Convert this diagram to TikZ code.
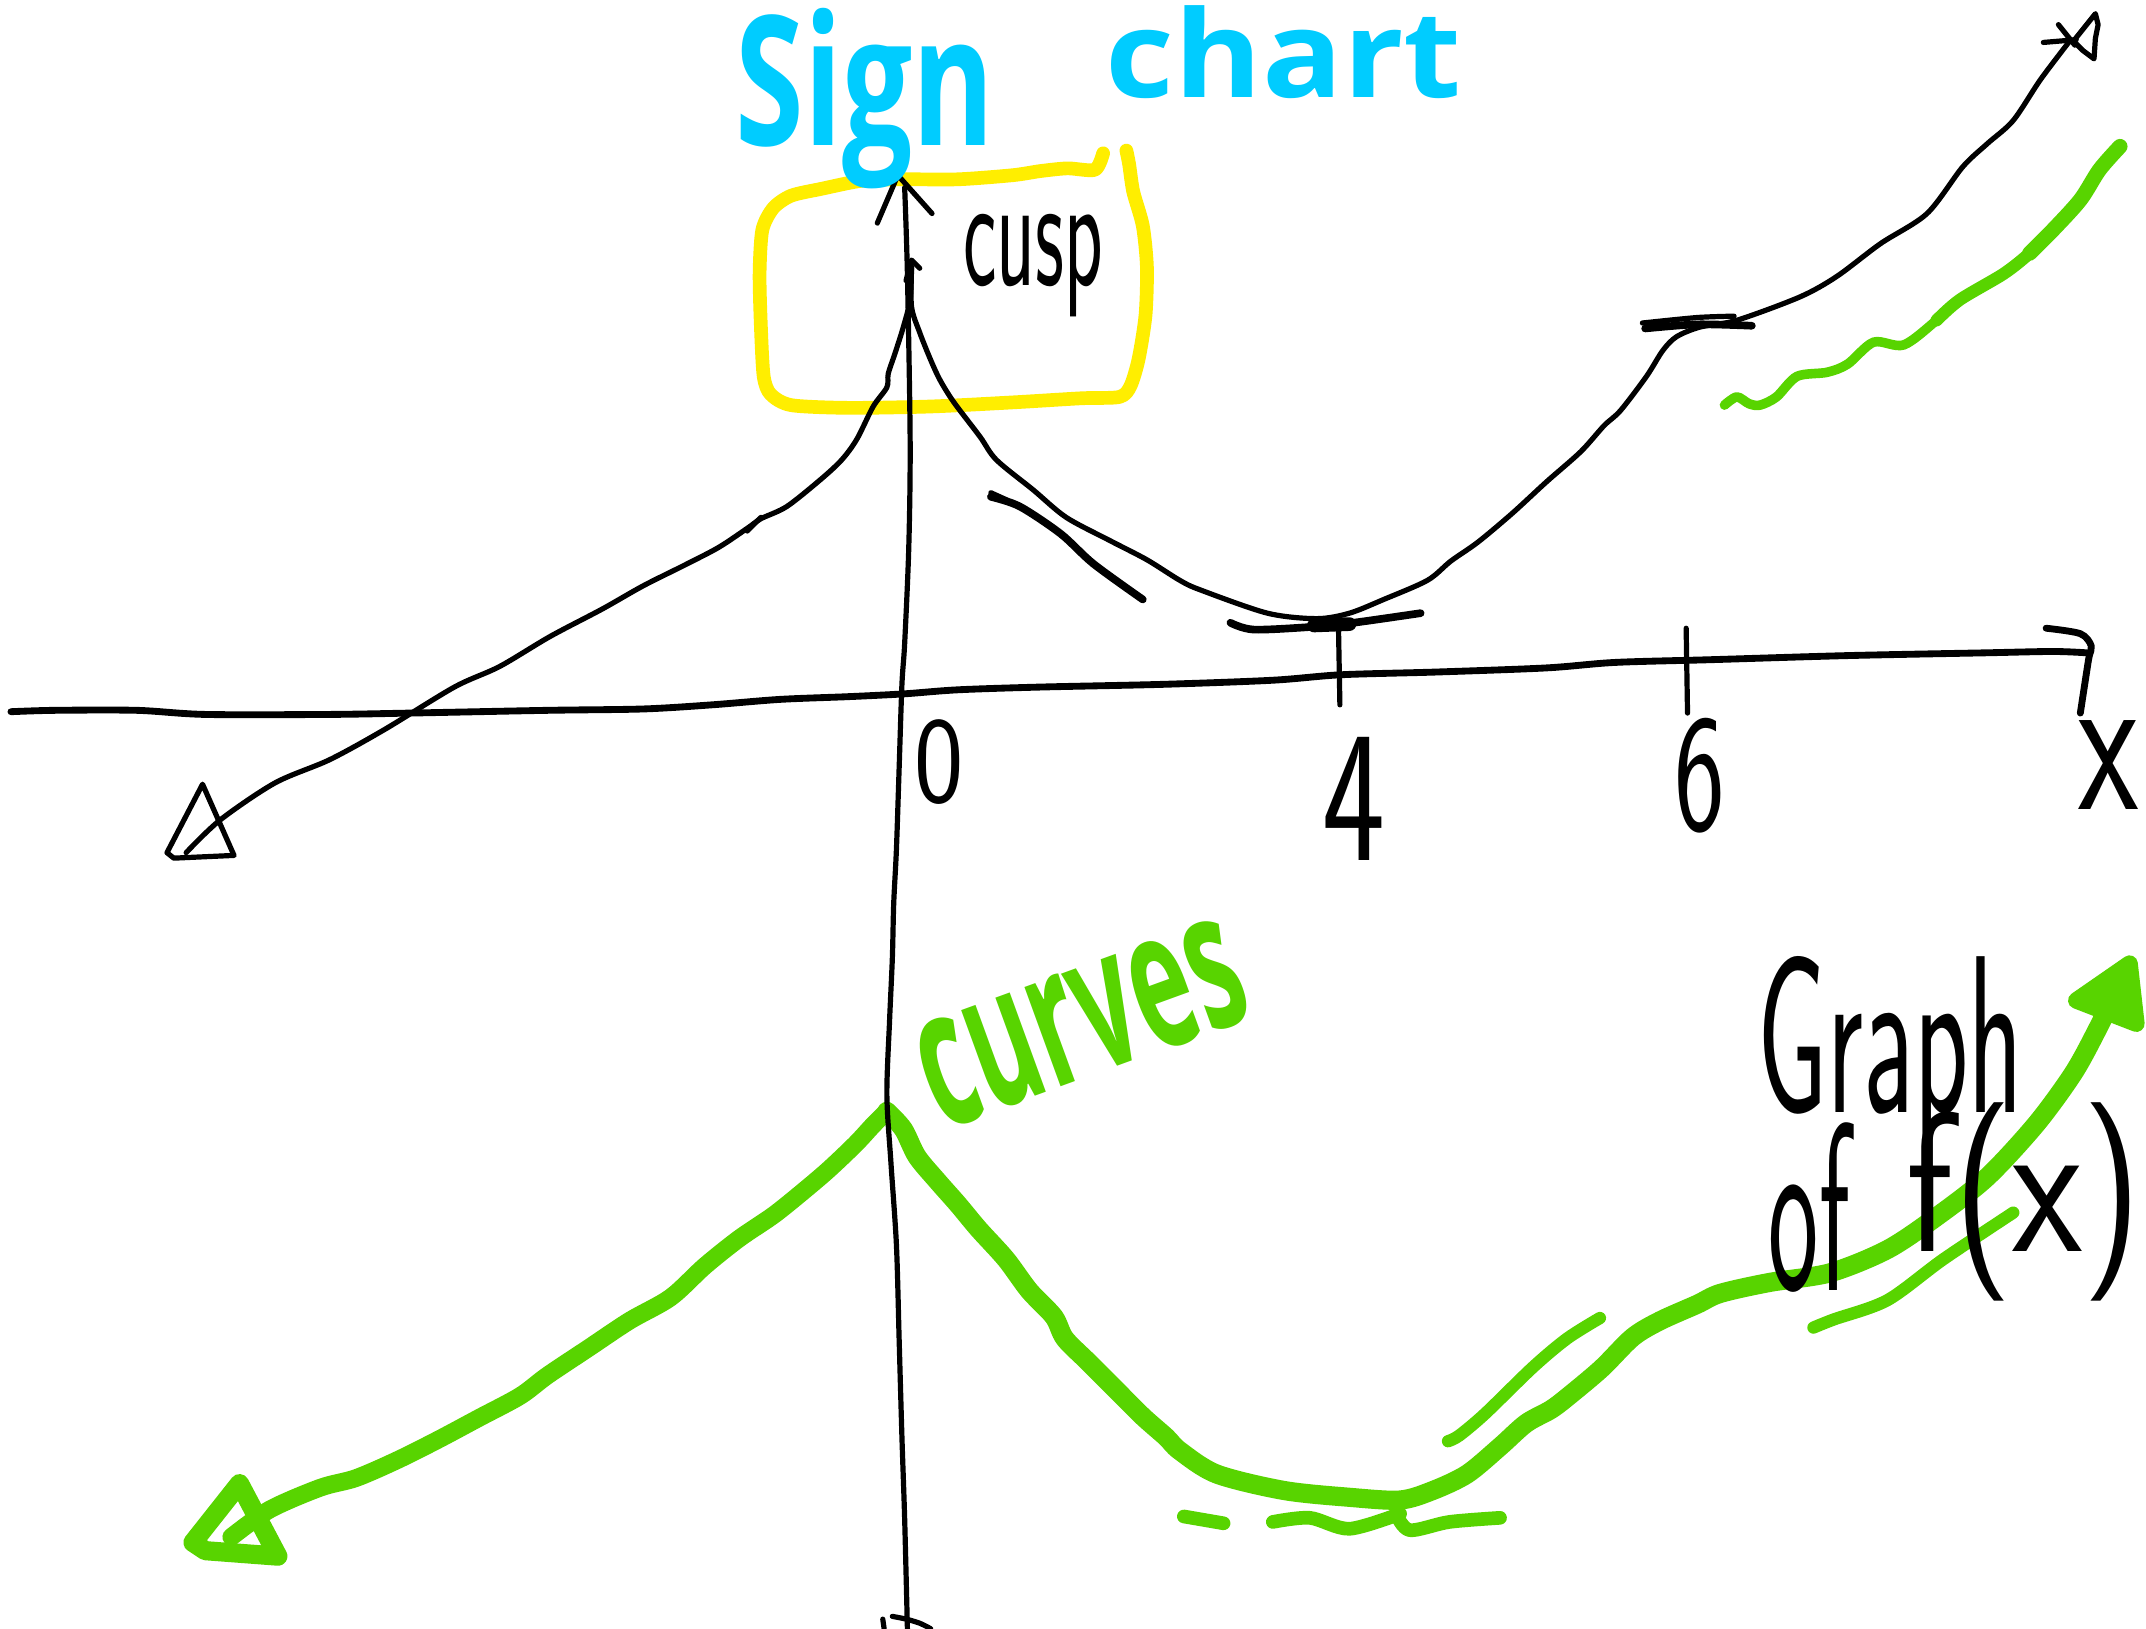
\documentclass[tikz,border=0pt]{standalone}
\usepackage{fontspec}
\usepackage{graphicx}
\newfontfamily\handfont{Open Sans}
\definecolor{skyc}{RGB}{0,204,255}
\definecolor{grn}{RGB}{88,212,0}
\definecolor{ylw}{RGB}{255,238,0}
\begin{document}
\begin{tikzpicture}[x=0.5pt,y=-0.5pt,
  ink/.style={draw=black,line width=1.9pt,line cap=round,line join=round},
  axisline/.style={ink,line width=2.5pt},
  tangent/.style={ink,line width=2.8pt},
  grnline/.style={draw=grn,line width=6.5pt,line cap=round,line join=round},
  grnthin/.style={draw=grn,line width=4.5pt,line cap=round,line join=round},
  ylwline/.style={draw=ylw,line width=5pt,line cap=round,line join=round},
  lbl/.style={inner sep=0pt,outer sep=0pt},
  blk/.style={lbl,text=black,font=\sffamily\fontsize{40}{40}\selectfont},
  hnd/.style={lbl,font=\handfont\bfseries\fontsize{40}{40}\selectfont},
]
\useasboundingbox (0,0) rectangle (1568,1190);
\fill[white] (0,0) rectangle (1568,1190);
\clip (0,0) rectangle (1568,1190);

% ---------- yellow box round the cusp ----------
\draw[ylwline] plot[smooth,tension=0.45] coordinates {(806,112) (800,124) (780,123) (760,125) (740,128) (700,131) (660,131) (630,132) (600,138) (578,143) (565,152) (557,168) (555,200) (556,240) (558,275) (563,288) (578,296) (620,298) (680,297) (740,294) (790,291) (818,290) (826,282) (832,262) (837,230) (838,195) (835,165) (828,140) (825,120) (823,110)};

% ---------- green graph of f(x) ----------
% upper right green curve (thickening)
\draw[draw=grn,line width=3.5pt,line cap=round,line join=round] plot[smooth,tension=0.5] coordinates {(1260,296) (1269,290) (1278,295) (1286,296) (1298,290) (1313,275) (1335,272) (1350,266) (1369,250) (1391,252) (1415,234) (1432,219) (1464,200) (1483,185) (1500,168) (1520,146) (1534,124) (1549,107)};
\draw[draw=grn,line width=4.5pt,line cap=round,line join=round] plot[smooth,tension=0.5] coordinates {(1415,234) (1432,219) (1464,200) (1483,185) (1500,168) (1520,146) (1534,124) (1549,107)};
\draw[draw=grn,line width=5.5pt,line cap=round,line join=round] plot[smooth,tension=0.5] coordinates {(1483,185) (1500,168) (1520,146) (1534,124) (1549,107)};

% lower main green curve, left branch
\draw[grnline] plot[smooth,tension=0.5] coordinates {(169,1123) (197,1103) (234,1087) (260,1080) (290,1067) (320,1052) (350,1036) (380,1020) (400,1005) (430,985) (460,965) (490,948) (515,925) (540,905) (565,888) (585,872) (605,855) (625,836) (638,822) (648,812)};
% left arrow head
\draw[grnline,line width=7pt] (175,1084) -- (141,1127) -- (150,1133) -- (203,1137) -- cycle;
% right branch
\draw[grnline,line width=7pt] plot[smooth,tension=0.5] coordinates {(648,812) (660,825) (670,845) (685,863) (700,880) (715,898) (735,920) (752,943) (770,962) (778,978) (795,995) (815,1015) (835,1035) (852,1050) (862,1060) (889,1077) (938,1089) (986,1094) (1023,1096) (1047,1089) (1072,1077) (1096,1057) (1115,1040) (1133,1030) (1145,1021) (1170,1000) (1193,977) (1213,965) (1240,953) (1257,945) (1293,937) (1337,930) (1379,913) (1415,889) (1452,860) (1488,821) (1515,784) (1532,753) (1544,728) (1550,712)};
\filldraw[draw=grn,fill=grn,line width=6pt,line join=round] (1517,731) -- (1556,704) -- (1561,748) -- cycle;
% green tangent strokes
\draw[grnthin] plot[smooth,tension=0.5] coordinates {(1058,1053) (1066,1049) (1085,1033) (1120,999) (1145,978) (1169,963)};
\draw[grnthin] plot[smooth,tension=0.5] coordinates {(1325,970) (1340,964) (1379,950) (1420,920) (1471,886)};
\draw[grnthin,line width=5pt] (865,1108) -- (894,1113);
\draw[grnthin,line width=5pt] plot[smooth,tension=0.5] coordinates {(930,1112) (957,1109) (986,1117) (1023,1106)};
\draw[grnthin,line width=5pt] plot[smooth,tension=0.5] coordinates {(1020,1106) (1030,1118) (1059,1112) (1096,1109)};

% ---------- black axes ----------
% horizontal axis
\draw[axisline] plot[smooth,tension=0.5] coordinates {(8,520) (40,519) (100,519) (150,522) (240,522) (300,521) (400,519) (470,518) (520,515) (570,511) (620,509) (660,507) (700,504) (760,502) (850,500) (930,497) (980,493) (1050,491) (1130,488) (1180,484) (1250,482) (1350,479) (1450,477) (1500,476) (1525,477)};
\draw[axisline] plot[smooth,tension=0.5] coordinates {(1495,459) (1520,463) (1528,472) (1526,482) (1520,521)};
% ticks
\draw[ink] (978,460) -- (979,515);
\draw[ink] (1232,459) -- (1233,521);
% vertical axis
\draw[ink] plot[smooth,tension=0.5] coordinates {(661,137) (663,200) (665,322) (664,400) (661,470) (659,500) (657,560) (655,620) (653,660) (652,700) (650,745) (648,800) (651,850) (655,910) (657,980) (659,1050) (661,1110) (663,1190)};
\draw[ink] (641,163) -- (656,128) -- (681,156);
\draw[ink] (645,1183) -- (646,1190);
\draw[ink] plot[smooth,tension=0.5] coordinates {(652,1181) (662,1183) (672,1186) (680,1190)};

% ---------- black graph ----------
% left branch with arrow tail
\draw[ink] plot[smooth,tension=0.5] coordinates {(136,623) (161,599) (201,572) (241,555) (281,533) (332,502) (365,487) (402,465) (440,445) (470,428) (500,413) (525,400) (546,386) (556,379) (575,370) (600,350) (615,336) (626,321) (638,297) (648,283) (649,273) (654,258) (660,239) (665,219) (666,195)};
\draw[ink] (546,388) -- (556,378);
\draw[ink] (148,573) -- (122,623) -- (127,627) -- (171,625) -- cycle;
% right branch
\draw[ink] plot[smooth,tension=0.5] coordinates {(666,195) (666,224) (672,243) (680,263) (687,278) (697,294) (716,319) (728,336) (755,358) (779,378) (811,395) (838,409) (862,424) (877,431) (926,448) (962,452) (986,448) (1011,438) (1043,424) (1060,410) (1080,396) (1105,375) (1130,352) (1155,330) (1172,311) (1184,300) (1203,275) (1215,256) (1225,246) (1242,239) (1269,234) (1315,217) (1342,202) (1374,178) (1408,156) (1434,122) (1452,105) (1471,88) (1491,58) (1513,29)};
\draw[ink] (662,205) -- (666,190) -- (672,196);
% top right arrow head
\draw[ink] (1493,31) -- (1517,29);
\draw[ink] (1504,18) -- (1516,33);
\draw[ink] (1515,30) -- (1531,10) -- (1533,18) -- (1531,28) -- (1530,43) -- (1522,37) -- cycle;
% black tangent strokes
\draw[tangent] plot[smooth,tension=0.5] coordinates {(724,363) (745,370) (775,390) (799,412) (835,438)};
\draw[ink] (724,360) -- (735,365);
\draw[tangent] plot[smooth,tension=0.5] coordinates {(899,455) (916,460) (959,458) (989,455) (1038,448)};
\draw[ink,line width=5pt] (960,457) -- (986,456);
\draw[tangent] plot[smooth,tension=0.5] coordinates {(1202,240) (1240,237) (1280,238)};
\draw[ink] plot[smooth,tension=0.5] coordinates {(1200,236) (1240,232) (1267,231)};

% ---------- texts ----------
\node[blk] (cusp) at (755,194) {\resizebox*{51pt}{37.5pt}{cusp}};
\node[blk] (zero) at (686,557) {\resizebox*{18pt}{31pt}{0}};
\node[blk] (four) at (989,584) {\resizebox*{23pt}{45pt}{4}};
\node[blk] (six) at (1242,567) {\resizebox*{18.5pt}{42pt}{6}};
\node[blk] (xlab) at (1541,559) {\resizebox*{22pt}{32.5pt}{x}};
\node[blk] (graph) at (1381,772) {\resizebox*{97pt}{73pt}{Graph}};
\node[blk] (of) at (1322,882) {\resizebox*{29.5pt}{62pt}{of}};
\node[blk] (fx) at (1479,878) {\resizebox*{86pt}{72.5pt}{f(x)}};
\node[hnd,text=grn,rotate=20] (curves) at (790,748) {\resizebox*{123pt}{40pt}{curves}};
\node[hnd,text=skyc] (sign) at (632,72) {\resizebox*{94.5pt}{66pt}{Sign}};
\node[hnd,text=skyc] (chart) at (938,38) {\resizebox*{130pt}{34pt}{chart}};
\end{tikzpicture}
\end{document}
